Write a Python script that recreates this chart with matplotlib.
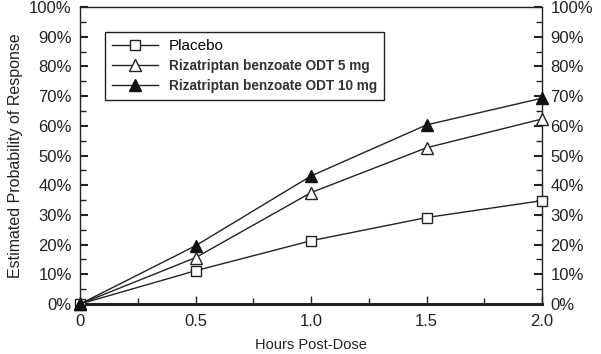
import matplotlib
matplotlib.use("Agg")
import matplotlib.pyplot as plt
from matplotlib.ticker import MultipleLocator, FixedLocator

hours = [0, 0.5, 1.0, 1.5, 2.0]
placebo = [0, 11.2, 21.3, 29.1, 34.8]
odt5 = [0, 15.6, 37.5, 52.6, 62.3]
odt10 = [0, 19.6, 43.1, 60.3, 69.3]
labels = ["Placebo", "Rizatriptan benzoate ODT 5 mg", "Rizatriptan benzoate ODT 10 mg"]
xticklabels = ["0", "0.5", "1.0", "1.5", "2.0"]
yticks = list(range(0, 101, 10))

plt.rcParams['font.family'] = ['Liberation Sans', 'DejaVu Sans']
fig = plt.figure(figsize=(6.01, 3.54), dpi=100)
ax = fig.add_axes([80/601, 1-304/354, 462/601, 297/354])

ax.plot(hours, placebo, '-', color='#222222', lw=1, marker='s', ms=7, mfc='white', mec='#222222', mew=1, label=labels[0], clip_on=False, zorder=3)
ax.plot(hours, odt5, '-', color='#222222', lw=1, marker='^', ms=8, mfc='white', mec='#222222', mew=1, label=labels[1], clip_on=False, zorder=3)
ax.plot(hours, odt10, '-', color='#222222', lw=1, marker='^', ms=8, mfc='#111111', mec='#111111', mew=1, label=labels[2], clip_on=False, zorder=3)

ax.set_xlim(0, 2.0)
ax.set_ylim(0, 100)
ax.set_xticks(hours)
ax.set_xticklabels(xticklabels)
ax.xaxis.set_minor_locator(FixedLocator([0.25, 0.75, 1.25, 1.75]))
ax.set_yticks(yticks)
ax.set_yticklabels([f"{v}%" for v in yticks])
ax.yaxis.set_minor_locator(MultipleLocator(5))
ax.tick_params(axis='both', which='both', direction='in', colors='#222222', labelsize=12)
ax.tick_params(axis='y', which='both', left=True, right=True, labelleft=True, labelright=True)
ax.tick_params(axis='y', which='major', length=6, width=1.5, pad=6)
ax.tick_params(axis='y', which='minor', length=4, width=1)
ax.tick_params(axis='x', which='major', length=6, width=1, pad=7)
ax.tick_params(axis='x', which='minor', length=4, width=1)
for lab in ax.get_xticklabels() + ax.get_yticklabels():
    lab.set_color('#222222')
for s in ['left', 'right', 'top']:
    ax.spines[s].set_linewidth(1)
    ax.spines[s].set_color('#222222')
ax.spines['bottom'].set_linewidth(2.2)
ax.spines['bottom'].set_color('#222222')

ax.set_xlabel("Hours Post-Dose", fontsize=10.5, color='#222222', labelpad=7)
ax.set_ylabel("Estimated Probability of Response", fontsize=11.5, color='#222222', labelpad=4)

leg = ax.legend(loc='upper left', bbox_to_anchor=(25/462, 1-25/297), frameon=True, fancybox=False,
                edgecolor='#222222', framealpha=1, fontsize=9.8, handlelength=3.4,
                borderpad=0.5, labelspacing=0.45, handletextpad=0.8, borderaxespad=0)
leg.get_frame().set_linewidth(1)
texts = leg.get_texts()
texts[0].set_fontsize(11)
for t in texts[1:]:
    t.set_fontweight('bold')
    t.set_color('#333333')

fig.savefig("out.png", dpi=100)
